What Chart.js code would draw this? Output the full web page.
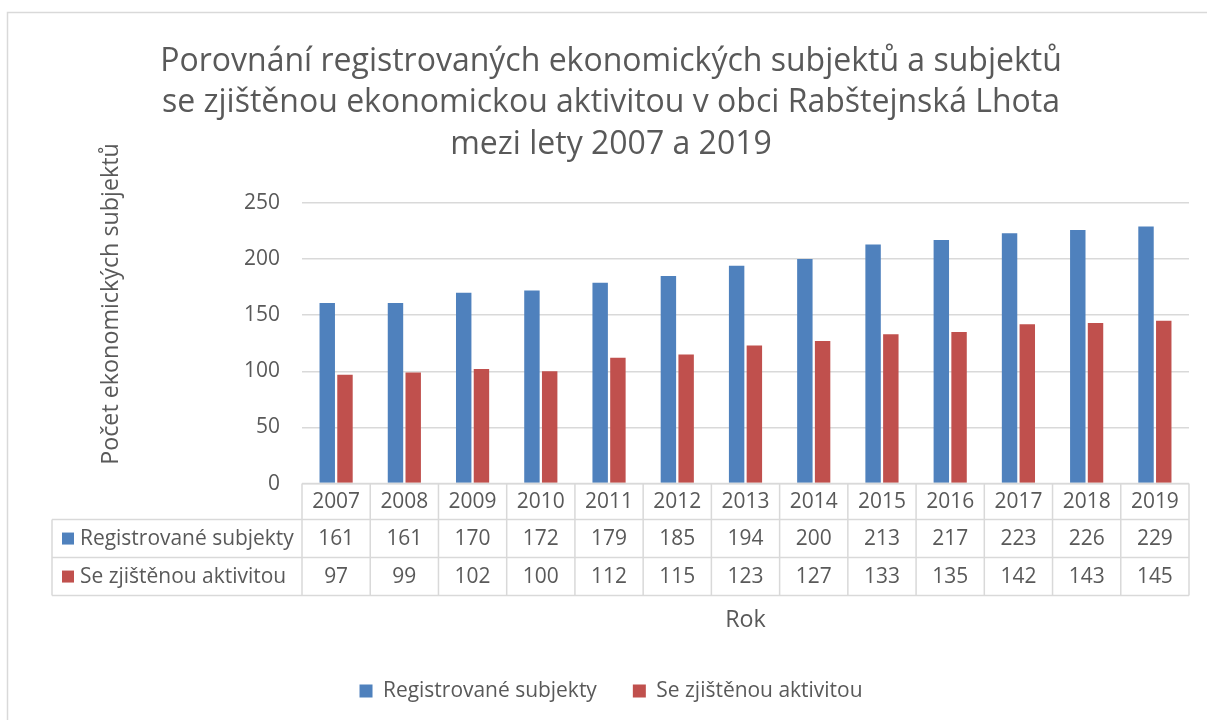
<!DOCTYPE html>
<html>
<head>
<meta charset="utf-8">
<script src="https://cdn.jsdelivr.net/npm/chart.js@4"></script>
<style>
html,body{margin:0;padding:0;background:#fff;overflow:hidden}
#wrap{width:1207px;height:720px}
</style>
</head>
<body>
<div id="wrap"><canvas id="chart" width="1207" height="720"></canvas></div>
<script>
const years = ['2007','2008','2009','2010','2011','2012','2013','2014','2015','2016','2017','2018','2019'];
const registrovane = [161,161,170,172,179,185,194,200,213,217,223,226,229];
const aktivni = [97,99,102,100,112,115,123,127,133,135,142,143,145];
const seriesNames = ['Registrované subjekty','Se zjištěnou aktivitou'];
const titleLines = ['Porovnání registrovaných ekonomických subjektů a subjektů','se zjištěnou ekonomickou aktivitou v obci Rabštejnská Lhota','mezi lety 2007 a 2019'];
const yTitle = 'Počet ekonomických subjektů';
const xTitle = 'Rok';

const FAM = '"Open Sans", "Noto Sans", sans-serif';
const txt = '#595959', line = '#d9d9d9';
const blue = '#4F81BD', red = '#C0504D';

// fit font sizes to the widths measured on the reference
const mctx = document.createElement('canvas').getContext('2d');
function fit(text, w){ mctx.font = '40px ' + FAM; return 40 * w / mctx.measureText(text).width; }
const titleSize = fit(titleLines[0], 902);
const bodySize = fit(seriesNames[0], 214);
const axisSize = fit(yTitle, 322);

const tablePlugin = {
  id: 'table',
  beforeDraw(c){
    const ctx = c.ctx;
    ctx.save();
    ctx.strokeStyle = line; ctx.lineWidth = 1.5;
    ctx.strokeRect(7.5, 12.5, 1400, 900);
    ctx.restore();
  },
  afterDraw(c){
    const ctx = c.ctx, x = c.scales.x, a = c.chartArea;
    const n = years.length, cw = (a.right - a.left) / n;
    const rows = [a.bottom, a.bottom + 36, a.bottom + 74, a.bottom + 112];
    const left = 52;
    ctx.save();
    ctx.strokeStyle = line; ctx.lineWidth = 1.5;
    ctx.beginPath();
    ctx.moveTo(a.left, rows[0]); ctx.lineTo(a.right, rows[0]);
    ctx.moveTo(left, rows[1]); ctx.lineTo(a.right, rows[1]);
    ctx.moveTo(left, rows[2]); ctx.lineTo(a.right, rows[2]);
    ctx.moveTo(left, rows[3]); ctx.lineTo(a.right, rows[3]);
    ctx.moveTo(left, rows[1]); ctx.lineTo(left, rows[3]);
    for (let i = 0; i <= n; i++) {
      const px = a.left + i * cw;
      ctx.moveTo(px, rows[0]); ctx.lineTo(px, rows[3]);
    }
    ctx.stroke();

    ctx.fillStyle = txt;
    ctx.font = bodySize + 'px ' + FAM;
    ctx.textAlign = 'center'; ctx.textBaseline = 'middle';
    const data = [years, registrovane, aktivni];
    for (let r = 0; r < 3; r++) {
      const cy = (rows[r] + rows[r + 1]) / 2;
      for (let i = 0; i < n; i++) ctx.fillText(String(data[r][i]), x.getPixelForValue(i), cy);
    }
    ctx.textAlign = 'left';
    [blue, red].forEach((col, k) => {
      const cy = (rows[k + 1] + rows[k + 2]) / 2;
      ctx.fillStyle = col; ctx.fillRect(62, cy - 6, 12, 12);
      ctx.fillStyle = txt; ctx.fillText(seriesNames[k], 80, cy);
    });

    // y axis title
    ctx.translate(111, 304);
    ctx.rotate(-Math.PI / 2);
    ctx.textAlign = 'center';
    ctx.font = axisSize + 'px ' + FAM;
    ctx.fillText(yTitle, 0, 0);
    ctx.restore();
  }
};

new Chart(document.getElementById('chart'), {
  type: 'bar',
  data: {
    labels: years,
    datasets: [
      {label: seriesNames[0], data: registrovane, backgroundColor: blue},
      {label: seriesNames[1], data: aktivni, backgroundColor: red}
    ]
  },
  options: {
    responsive: false,
    animation: false,
    layout: {padding: {left: 33, right: 18, top: 0, bottom: 8.5}},
    datasets: {bar: {categoryPercentage: 0.52, barPercentage: 0.87}},
    plugins: {
      title: {display: true, text: titleLines, color: txt, font: {family: FAM, size: titleSize, weight: 'normal', lineHeight: 41.5 / titleSize}, padding: {top: 41, bottom: 37.5}},
      legend: {position: 'bottom', labels: {color: txt, font: {family: FAM, size: bodySize}, boxWidth: 13, boxHeight: 13, padding: 36}},
      tooltip: {enabled: false}
    },
    scales: {
      x: {
        grid: {display: false},
        border: {display: false},
        ticks: {display: false},
        title: {display: true, text: xTitle, color: txt, font: {family: FAM, size: axisSize}, padding: {top: 115, bottom: 10}}
      },
      y: {
        min: 0, max: 250,
        ticks: {stepSize: 50, color: txt, font: {family: FAM, size: bodySize}, padding: 22},
        grid: {color: line, lineWidth: 1.5, drawTicks: false},
        border: {display: false},
        afterFit(s){ s.width = 269; }
      }
    }
  },
  plugins: [tablePlugin]
});
</script>
</body>
</html>
